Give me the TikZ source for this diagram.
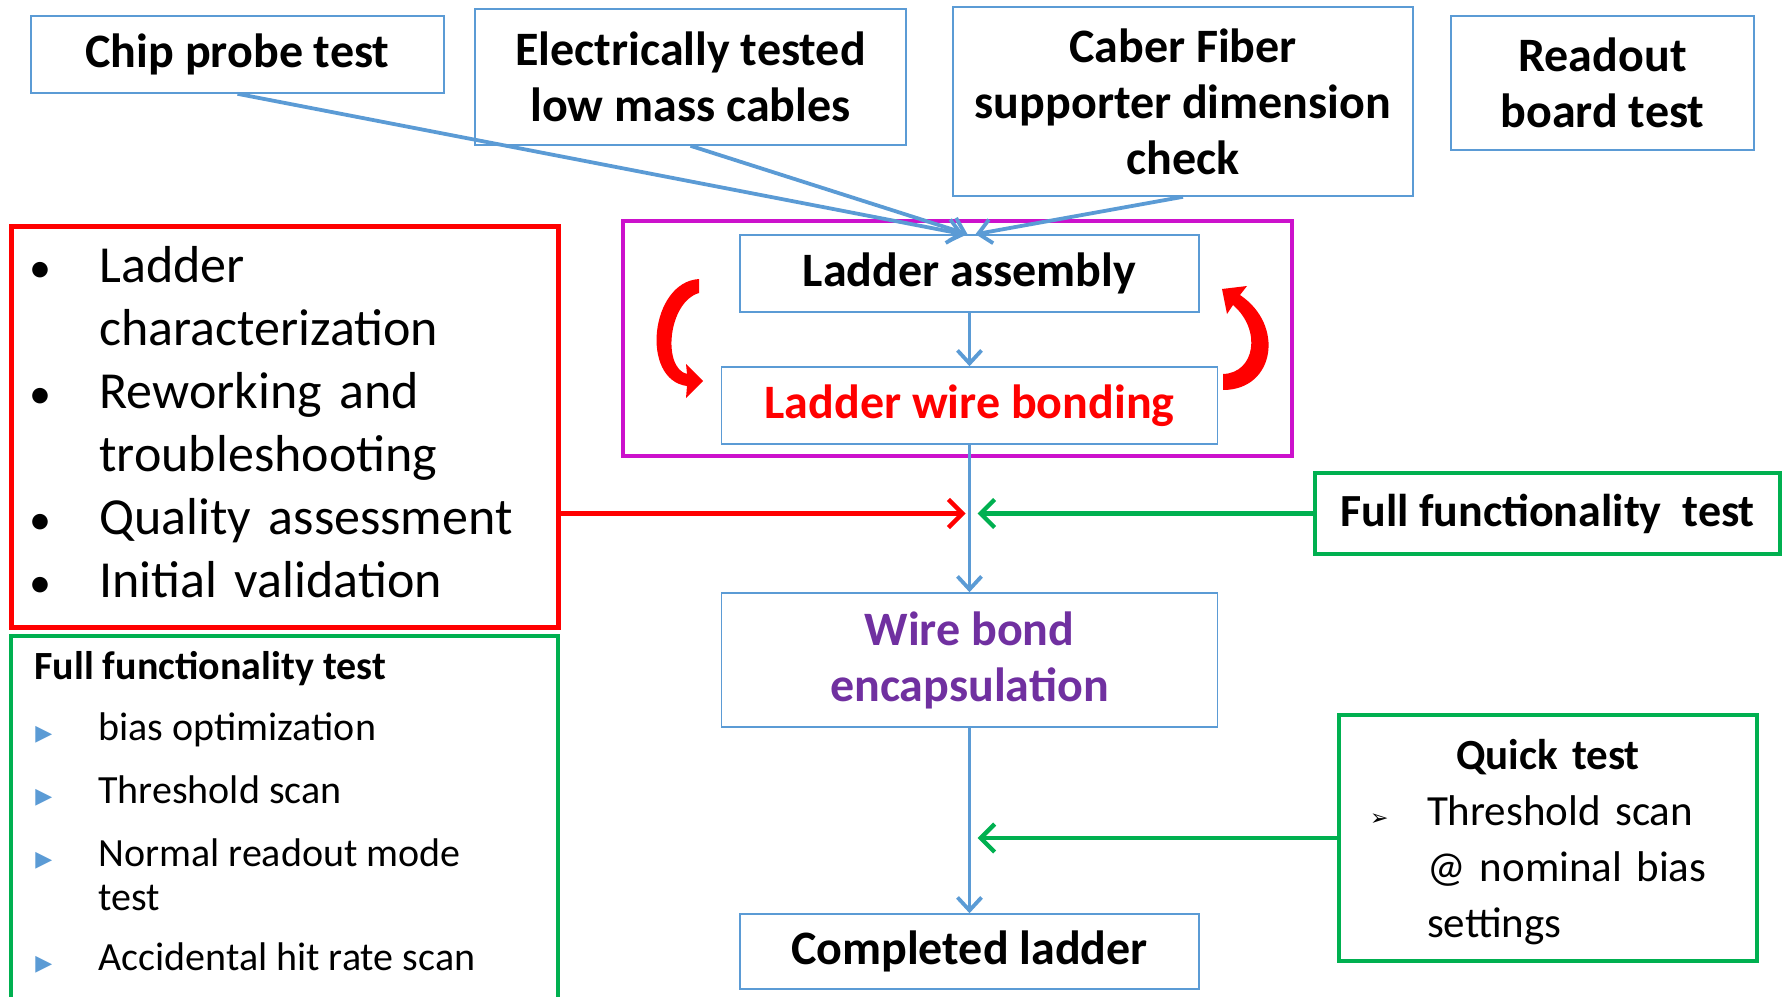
\documentclass[tikz,border=0pt]{standalone}
\usepackage{fontspec}
\setmainfont{Carlito}
\newfontfamily\symfont{DejaVu Sans}
\usetikzlibrary{arrows.meta}

\definecolor{lineblue}{HTML}{5B9BD5}
\definecolor{boxgreen}{HTML}{00B050}
\definecolor{boxmagenta}{HTML}{CC11CC}
\definecolor{textpurple}{HTML}{7030A0}

\newcommand{\redbul}{\hspace*{-4.5pt}\makebox[35pt][l]{{\fontsize{22}{22}\selectfont\textbullet}}}
\newcommand{\bluetri}{\makebox[32pt][l]{\hspace{0.5pt}{\symfont\fontsize{11}{11}\selectfont\color{lineblue}▶}}}
\newcommand{\arrbul}{\makebox[28.5pt][l]{{\symfont\fontsize{11}{11}\selectfont ➢}}}

\begin{document}
\begin{tikzpicture}[x=0.5pt,y=-0.5pt,
procbox/.style={draw=lineblue,line width=0.8pt,align=center,inner sep=0pt,font=\fontsize{24}{28}\selectfont\bfseries},
groupbox/.style={draw,line width=2pt,inner sep=0pt},
flow/.style={draw=lineblue,line width=1.9pt,-{Straight Barb[length=6.5pt,width=12pt]}},
feed/.style={line width=2.2pt,-{Straight Barb[length=7pt,width=14pt]}},
loopfill/.style={fill=red}]

\useasboundingbox (0,0) rectangle (1787,996);

\draw (237.5,54.5) node[procbox,minimum width=206.5pt,minimum height=38.5pt] (chip) {Chip probe test};
\draw (690.5,77) node[procbox,minimum width=215.5pt,minimum height=68pt] (cables) {Electrically tested\\low mass cables};
\draw (1183,101.5) node[procbox,minimum width=230pt,minimum height=94.5pt] (fiber) {Caber Fiber\\supporter dimension\\check};
\draw (1602.5,83) node[procbox,minimum width=151.5pt,minimum height=67pt] (readout) {Readout\\board test};

\draw (957.5,338.5) node[groupbox,draw=boxmagenta,minimum width=334.5pt,minimum height=117.5pt] (assy) {};
\draw (969.5,273.5) node[procbox,minimum width=229.5pt,minimum height=38.5pt] (assembly) {Ladder assembly};
\draw (969.5,405.5) node[procbox,minimum width=248pt,minimum height=38.5pt,text=red] (bonding) {Ladder wire bonding};
\draw (969.5,660) node[procbox,minimum width=248pt,minimum height=67pt,text=textpurple] (encap) {Wire bond\\encapsulation};
\draw (969.5,951.5) node[procbox,minimum width=229.5pt,minimum height=37.5pt] (done) {Completed ladder};

\draw (284.5,426.5) node[groupbox,draw=red,line width=2.5pt,minimum width=273.5pt,minimum height=200.5pt] (charac) {};
\draw (charac.center) ++(0,-4) node[text width=246pt,align=left,font=\fontsize{26}{31.5}\selectfont,inner sep=0pt] (charactext) {\redbul Ladder\\\hspace*{30.5pt}characterization\\\redbul Reworking and\\\hspace*{30.5pt}troubleshooting\\\redbul Quality assessment\\\redbul Initial validation};
\draw (284.5,818) node[groupbox,draw=boxgreen,minimum width=273.5pt,minimum height=182pt] (fullspec) {};
\draw (34,651) node[anchor=north west,align=left,inner sep=0pt,font=\fontsize{20}{22}\selectfont] (fullspectext) {\textbf{Full functionality test}\\[8.5pt]\bluetri bias optimization\\[9.5pt]\bluetri Threshold scan\\[9.5pt]\bluetri Normal readout mode\\\hspace*{32pt}test\\[8pt]\bluetri Accidental hit rate scan};
\draw (1547.5,513.5) node[groupbox,draw=boxgreen,minimum width=232.5pt,minimum height=40.5pt,font=\fontsize{23}{28}\selectfont\bfseries] (fulltest) {Full functionality\ \ test};
\draw (1548,838) node[groupbox,draw=boxgreen,minimum width=209pt,minimum height=123pt] (quick) {};
\draw (quick.center) ++(0,4) node[text width=178pt,align=left,inner sep=0pt,font=\fontsize{21.5}{28}\selectfont] (quicktext) {\makebox[178pt]{\bfseries Quick test}\\\arrbul Threshold scan\\\hspace*{28.5pt}@ nominal bias\\\hspace*{28.5pt}settings};

\coordinate (redjoin) at (969.5,513.5);
\coordinate (quickjoin) at (969.5,838);

\draw[flow] (chip.south) -- ([xshift=-3pt]assembly.north);
\draw[flow] (cables.south) -- ([xshift=-1pt]assembly.north);
\draw[flow] (fiber.south) -- ([xshift=3pt]assembly.north);
\draw[flow] (assembly) -- (bonding);
\draw[flow] (bonding) -- (encap);
\draw[flow] (encap) -- (done);
\draw[feed,red] (charac.east |- redjoin) -- ([xshift=-2pt]redjoin);
\draw[feed,boxgreen] (fulltest.west) -- ([xshift=4pt]redjoin);
\draw[feed,boxgreen] (quick.west) -- ([xshift=4pt]quickjoin);

\fill[loopfill] (699,279) .. controls (650,282) and (640,380) .. (687,386) -- (686,398) -- (703,381) -- (686,364) -- (687,374) .. controls (662,368) and (668,302) .. (699,293) -- cycle;
\fill[loopfill] (1223,390) .. controls (1275,390) and (1285,325) .. (1240,295) -- (1247,286) -- (1222,289) -- (1227,314) -- (1233,305) .. controls (1262,330) and (1255,373) .. (1223,374) -- cycle;
\end{tikzpicture}
\end{document}
